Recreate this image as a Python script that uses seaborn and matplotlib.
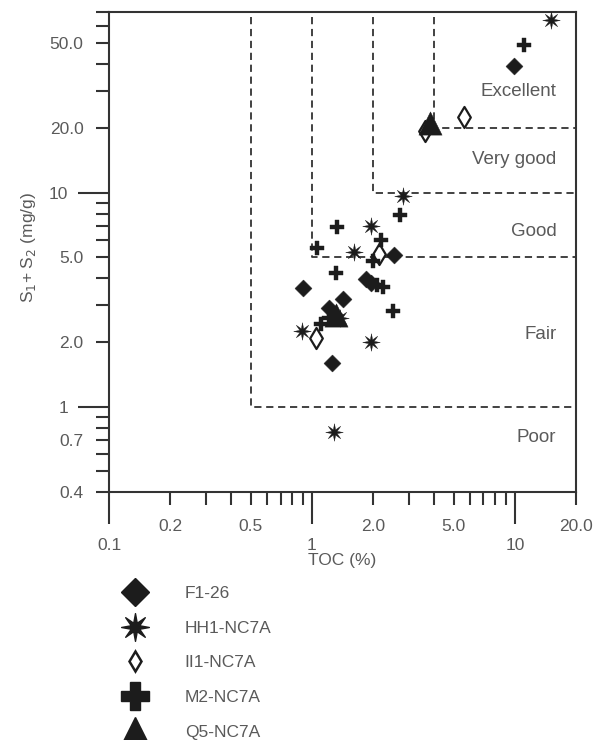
import numpy as np
import pandas as pd
import matplotlib
matplotlib.use('Agg')
import matplotlib.pyplot as plt
import seaborn as sns
from matplotlib.lines import Line2D
from matplotlib.path import Path

sns.set_style('ticks')
plt.rcParams['font.family'] = ['Liberation Sans', 'DejaVu Sans']

# TOC (%) vs S1+S2 (mg/g)
f1_toc = [9.9, 0.90, 2.55, 1.84, 1.95, 1.42, 1.22, 1.30, 1.25]
f1_s12 = [39.0, 3.6, 5.1, 3.95, 3.8, 3.2, 2.9, 2.7, 1.6]
hh1_toc = [15.0, 2.8, 1.95, 1.62, 0.89, 1.38, 1.95, 1.28]
hh1_s12 = [64.0, 9.7, 7.0, 5.3, 2.25, 2.6, 2.0, 0.76]
ii1_toc = [5.6, 3.6, 2.15, 1.05]
ii1_s12 = [22.5, 19.5, 5.2, 2.1]
m2_toc = [11.1, 2.7, 1.33, 1.06, 2.2, 2.0, 1.31, 2.08, 2.25, 2.52, 1.11, 1.22]
m2_s12 = [49.0, 7.9, 6.9, 5.5, 6.0, 4.8, 4.2, 3.7, 3.65, 2.8, 2.45, 2.6]
q5_toc = [3.8, 1.32]
q5_s12 = [21.3, 2.7]

wells = ['F1-26', 'HH1-NC7A', 'II1-NC7A', 'M2-NC7A', 'Q5-NC7A']

# class boundaries (TOC, S1+S2) and class labels
bound_toc = [0.5, 1.0, 2.0, 4.0]
bound_s12 = [1.0, 5.0, 10.0, 20.0]
classes = ['Poor', 'Fair', 'Good', 'Very good', 'Excellent']
class_y = [0.72, 2.17, 6.6, 14.3, 29.7]

x_major = [0.1, 1, 10]
x_major_lab = ['0.1', '1', '10']
x_minor = [0.2, 0.3, 0.4, 0.5, 0.6, 0.7, 0.8, 0.9, 2, 3, 4, 5, 6, 7, 8, 9, 20]
x_minor_lab = ['0.2', '', '', '0.5', '', '', '', '', '2.0', '', '', '5.0', '', '', '', '', '20.0']
y_major = [1, 10]
y_major_lab = ['1', '10']
y_minor = [0.4, 0.5, 0.6, 0.7, 0.8, 0.9, 2, 3, 4, 5, 6, 7, 8, 9, 20, 30, 40, 50, 60, 70]
y_minor_lab = ['0.4', '', '', '0.7', '', '', '2.0', '', '', '5.0', '', '', '', '', '20.0', '', '', '50.0', '', '']

df = pd.concat([
    pd.DataFrame({'toc': f1_toc, 's12': f1_s12, 'well': wells[0]}),
    pd.DataFrame({'toc': hh1_toc, 's12': hh1_s12, 'well': wells[1]}),
    pd.DataFrame({'toc': ii1_toc, 's12': ii1_s12, 'well': wells[2]}),
    pd.DataFrame({'toc': m2_toc, 's12': m2_s12, 'well': wells[3]}),
    pd.DataFrame({'toc': q5_toc, 's12': q5_s12, 'well': wells[4]}),
])

ink = '#1c1c1c'
grey = '#5a5a5a'
star = Path.unit_regular_star(8, 0.33)
mk = {'F1-26': ('D', 75), 'HH1-NC7A': (star, 160), 'II1-NC7A': ('d', 115),
      'M2-NC7A': ('P', 105), 'Q5-NC7A': ('^', 280)}

fig = plt.figure(figsize=(6, 7.4), dpi=100)
ax = fig.add_axes([0.1817, 0.3351, 0.7783, 0.6487])
ax.set_xscale('log')
ax.set_yscale('log')

# dashed class boundaries
for bx, by in zip(bound_toc, bound_s12):
    ax.plot([bx, bx, 20], [66, by, by], ls=(0, (4, 2.6)), lw=1.3, color='#333333', zorder=1)

for w in wells:
    m, s = mk[w]
    sub = df[df['well'] == w]
    sns.scatterplot(data=sub, x='toc', y='s12', marker=m, s=s, color=ink,
                    edgecolor=ink, linewidth=1.6 if w == 'II1-NC7A' else 0.3,
                    ax=ax, zorder=3, legend=False)
    if w == 'II1-NC7A':
        ax.collections[-1].set_facecolor('white')

for lab, yy in zip(classes, class_y):
    ax.text(16, yy, lab, ha='right', va='center', fontsize=13.5, color=grey)

ax.set_xlim(0.1, 20)
ax.set_ylim(0.4, 70)
ax.set_xticks(x_major, x_major_lab)
ax.set_xticks(x_minor, x_minor_lab, minor=True)
ax.set_yticks(y_major, y_major_lab)
ax.set_yticks(y_minor, y_minor_lab, minor=True)
ax.tick_params(axis='both', which='both', direction='out', width=1.5, color='#333333',
               labelcolor=grey, labelsize=12.5)
ax.tick_params(axis='x', which='major', length=23, pad=10)
ax.tick_params(axis='x', which='minor', length=9.4, pad=10)
ax.tick_params(axis='y', which='major', length=22.3, pad=7)
ax.tick_params(axis='y', which='minor', length=9.4, pad=9)
for sp in ax.spines.values():
    sp.set_linewidth(1.5)
    sp.set_color('#333333')

ax.set_xlabel('TOC (%)', fontsize=12.5, color=grey)
ax.xaxis.set_label_coords(0.5, -0.127)
ax.set_ylabel(r'S$_1$+ S$_2$ (mg/g)', fontsize=12.5, color=grey)
ax.yaxis.set_label_coords(-0.152, 0.51)

handles = [
    Line2D([], [], ls='', marker='D', ms=14.3, color=ink),
    Line2D([], [], ls='', marker=star, ms=20, color=ink),
    Line2D([], [], ls='', marker='d', ms=10.2, mfc='white', mec=ink, mew=1.8),
    Line2D([], [], ls='', marker='P', ms=20, color=ink),
    Line2D([], [], ls='', marker='^', ms=20, color=ink),
]
fig.legend(handles, wells, loc='upper left', bbox_to_anchor=(0.196, 0.208), frameon=False,
           fontsize=12.5, labelcolor=grey, handlelength=2.0, handletextpad=1.87,
           labelspacing=1.12, borderpad=0, borderaxespad=0)

plt.savefig('out.png', dpi=100)
